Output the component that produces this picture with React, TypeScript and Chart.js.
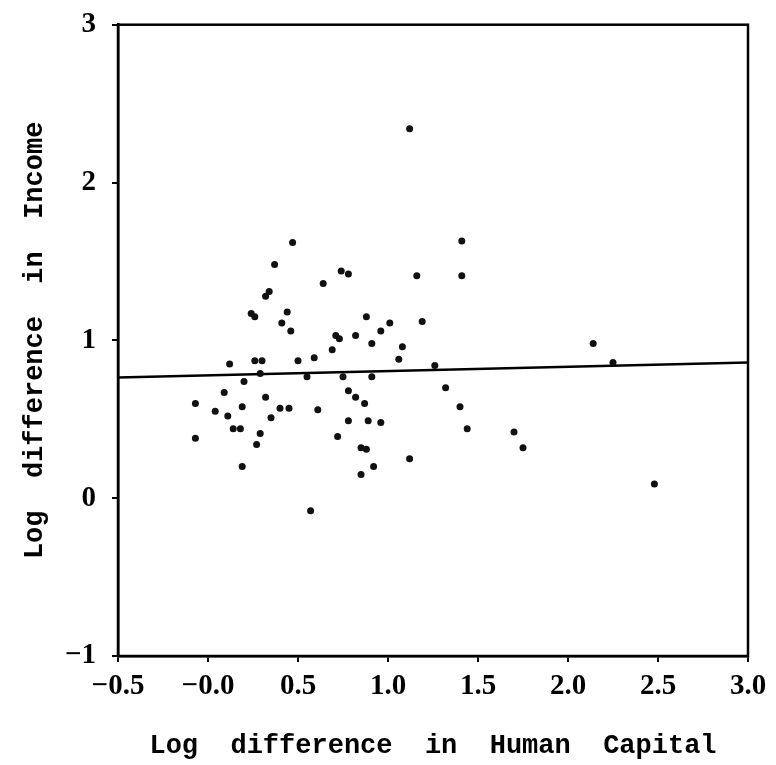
import React, { useEffect, useRef } from "react";
import { Chart, registerables } from "chart.js";

Chart.register(...registerables);

const xValues: number[] = [
  1.12, 0.47, 1.41, 0.37, 0.74, 0.78, 1.16, 1.41, 0.64, 0.34,
  0.32, 0.24, 0.26, 0.44, 0.41, 0.46, 0.71, 0.73, 0.69, 0.88,
  1.01, 1.19, 0.96, 0.82, 0.91, 1.08, 1.06, 0.12, 0.26, 0.30,
  0.50, 0.59, 0.20, 0.29, 0.55, 0.75, 0.91, 1.26, 0.09, 0.32,
  0.78, 0.82, 0.87, 1.32, -0.07, 0.04, 0.19, 0.40, 0.45, 0.61,
  0.11, 0.35, 0.78, 0.89, 0.96, 1.40, 1.44, 0.14, 0.18, 0.29,
  0.27, -0.07, 0.72, 0.85, 0.88, 1.70, 1.75, 1.12, 0.92, 0.85,
  0.19, 0.57, 2.48, 2.14, 2.25,
];
const yValues: number[] = [
  2.34, 1.62, 1.63, 1.48, 1.44, 1.42, 1.41, 1.41, 1.36, 1.31,
  1.28, 1.17, 1.15, 1.18, 1.11, 1.06, 1.03, 1.01, 0.94, 1.15,
  1.11, 1.12, 1.06, 1.03, 0.98, 0.96, 0.88, 0.85, 0.87, 0.87,
  0.87, 0.89, 0.74, 0.79, 0.77, 0.77, 0.77, 0.84, 0.67, 0.64,
  0.68, 0.64, 0.60, 0.70, 0.60, 0.55, 0.58, 0.57, 0.57, 0.56,
  0.52, 0.51, 0.49, 0.49, 0.48, 0.58, 0.44, 0.44, 0.44, 0.41,
  0.34, 0.38, 0.39, 0.32, 0.31, 0.42, 0.32, 0.25, 0.20, 0.15,
  0.20, -0.08, 0.09, 0.98, 0.86,
];
const fitX: number[] = [-0.5, 3.0];
const fitY: number[] = [0.765, 0.86];

const xTitle = "Log  difference  in  Human  Capital";
const yTitle = "Log  difference  in  Income";

const fmtX = (v: number) => {
  if (Math.abs(v) < 1e-9) return "\u22120.0";
  return (v < 0 ? "\u2212" : "") + Math.abs(v).toFixed(1);
};
const fmtY = (v: number) => (v < 0 ? "\u2212" : "") + Math.abs(Math.round(v)).toString();

const boxPlugin = {
  id: "boxPlugin",
  afterDraw(chart: any) {
    const { ctx, chartArea } = chart;
    ctx.save();
    ctx.strokeStyle = "#000";
    ctx.lineWidth = 2.5;
    ctx.strokeRect(chartArea.left, chartArea.top, chartArea.right - chartArea.left, chartArea.bottom - chartArea.top);
    ctx.restore();
  },
};

export default function App() {
  const ref = useRef<HTMLCanvasElement | null>(null);
  useEffect(() => {
    document.body.style.margin = "0";
    if (!ref.current) return;
    const xTickFont = { family: "'Liberation Serif', serif", size: 29, weight: "bold" as const };
    const yTickFont = { family: "'Liberation Serif', serif", size: 29, weight: "bold" as const, lineHeight: 0.6 };
    const titleFont = { family: "'Liberation Mono', monospace", size: 27, weight: "bold" as const };
    const chart = new Chart(ref.current, {
      type: "scatter",
      data: {
        datasets: [
          {
            label: "points",
            data: xValues.map((x, i) => ({ x, y: yValues[i] })),
            backgroundColor: "#111",
            borderColor: "#111",
            pointRadius: 3.5,
            pointBorderWidth: 0,
          },
          {
            type: "line",
            label: "fit",
            data: fitX.map((x, i) => ({ x, y: fitY[i] })),
            borderColor: "#000",
            borderWidth: 2.5,
            pointRadius: 0,
            fill: false,
          } as any,
        ],
      },
      options: {
        animation: false,
        responsive: true,
        maintainAspectRatio: false,
        layout: { padding: { top: 21, right: 28, left: 0, bottom: 0 } },
        plugins: { legend: { display: false }, tooltip: { enabled: false } },
        scales: {
          x: {
            type: "linear",
            min: -0.5,
            max: 3.0,
            afterFit: (s: any) => {
              s.height = 109;
            },
            ticks: {
              stepSize: 0.5,
              color: "#000",
              font: xTickFont,
              padding: 7,
              maxRotation: 0,
              callback: (v: any) => fmtX(Number(v)),
            },
            grid: { drawOnChartArea: false, drawTicks: true, tickLength: 6, color: "#000", lineWidth: 2 },
            border: { display: true, color: "#000", width: 2.5 },
            title: { display: true, text: xTitle, color: "#000", font: titleFont, padding: { top: 0, bottom: 3 } },
          },
          y: {
            type: "linear",
            min: -1,
            max: 3,
            afterFit: (s: any) => {
              s.width = 118;
            },
            ticks: {
              stepSize: 1,
              color: "#000",
              font: yTickFont,
              padding: 16,
              callback: (v: any) => fmtY(Number(v)),
            },
            grid: { drawOnChartArea: false, drawTicks: true, tickLength: 6, color: "#000", lineWidth: 2 },
            border: { display: true, color: "#000", width: 2.5 },
            title: { display: true, text: yTitle, color: "#000", font: titleFont, padding: { top: 19, bottom: 0 } },
          },
        },
      },
      plugins: [boxPlugin],
    });
    return () => chart.destroy();
  }, []);
  return (
    <div style={{ width: 776, height: 765, position: "relative", background: "#fff" }}>
      <canvas ref={ref} />
    </div>
  );
}
